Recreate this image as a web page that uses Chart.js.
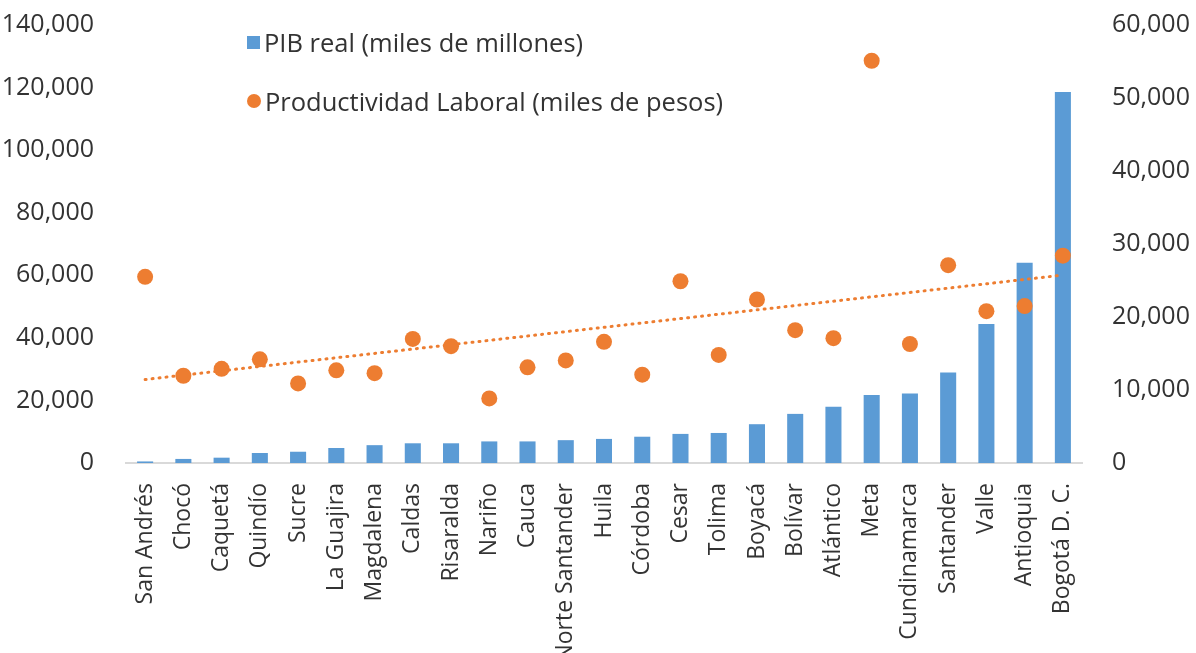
<!DOCTYPE html>
<html>
<head>
<meta charset="utf-8">
<script src="https://cdn.jsdelivr.net/npm/chart.js@4.4.1/dist/chart.umd.min.js"></script>
<style>
  html, body { margin: 0; padding: 0; background: #fff; overflow: hidden; }
  #wrap { position: relative; width: 1196px; height: 653px; }
  #legend { position: absolute; left: 247px; top: 24px; font-family: "Open Sans", sans-serif; font-size: 25.5px; color: #333; }
  .item { display: flex; align-items: center; height: 36px; margin-bottom: 23px; white-space: nowrap; }
  .box { width: 13px; height: 13px; background: #5B9BD5; margin-right: 4px; }
  .dot { width: 14px; height: 14px; border-radius: 50%; background: #ED7D31; margin-right: 4px; }
</style>
</head>
<body>
<div id="wrap">
  <canvas id="chart" width="1196" height="653"></canvas>
  <div id="legend">
    <div class="item"><span class="box"></span>PIB real (miles de millones)</div>
    <div class="item"><span class="dot"></span>Productividad Laboral (miles de pesos)</div>
  </div>
</div>
<script>
// Departments, sorted by PIB
const departments = ["San Andrés", "Chocó", "Caquetá", "Quindío", "Sucre", "La Guajira", "Magdalena",
    "Caldas", "Risaralda", "Nariño", "Cauca", "Norte Santander", "Huila", "Córdoba", "Cesar",
    "Tolima", "Boyacá", "Bolívar", "Atlántico", "Meta", "Cundinamarca", "Santander", "Valle",
    "Antioquia", "Bogotá D. C."];

// PIB real (miles de millones) - left axis
const pibReal = [500, 1300, 1700, 3200, 3600, 4800, 5700, 6300, 6300, 6900, 6900, 7300, 7700,
    8400, 9300, 9600, 12400, 15700, 18000, 21700, 22200, 28900, 44400, 64000, 118600];

// Productividad laboral (miles de pesos) - right axis
const productividad = [25500, 11950, 12900, 14200, 10900, 12700, 12300, 17000, 16000, 8850, 13100,
    14050, 16600, 12100, 24900, 14800, 22400, 18200, 17100, 55100, 16300, 27100, 20800, 21500, 28400];

// Axis ticks
const leftTicks = [0, 20000, 40000, 60000, 80000, 100000, 120000, 140000];
const rightTicks = [0, 10000, 20000, 30000, 40000, 50000, 60000];

// Linear trendline (least squares) over productividad
function trendline(values) {
    const n = values.length;
    const mx = (n - 1) / 2;
    const my = values.reduce((a, b) => a + b, 0) / n;
    let sxy = 0, sxx = 0;
    values.forEach((v, i) => {
        sxy += (i - mx) * (v - my);
        sxx += (i - mx) * (i - mx);
    });
    const slope = sxy / sxx;
    return values.map((v, i) => my + slope * (i - mx));
}

const fmt = (v) => v.toLocaleString("en-US");
const textColor = "#333";
const tickFont = { family: "Open Sans", size: 25 };

// fixed axis widths, and no extra top/bottom padding from the tick labels
function fixY(width) {
    return (scale) => {
        scale.width = width;
        scale.paddingTop = 0;
        scale.paddingBottom = 0;
    };
}

new Chart(document.getElementById("chart").getContext("2d"), {
    type: "bar",
    data: {
        labels: departments,
        datasets: [
            {
                type: "line",
                label: "Productividad Laboral (miles de pesos)",
                data: productividad,
                yAxisID: "y1",
                showLine: false,
                pointRadius: 8,
                pointHoverRadius: 8,
                pointBackgroundColor: "#ED7D31",
                pointBorderWidth: 0,
                order: 1
            },
            {
                type: "line",
                label: "Tendencia",
                data: trendline(productividad),
                yAxisID: "y1",
                borderColor: "#ED7D31",
                borderWidth: 3,
                borderDash: [1, 6],
                borderCapStyle: "round",
                pointRadius: 0,
                fill: false,
                order: 2
            },
            {
                label: "PIB real (miles de millones)",
                data: pibReal,
                yAxisID: "y",
                backgroundColor: "#5B9BD5",
                categoryPercentage: 1,
                barPercentage: 0.42,
                order: 3
            }
        ]
    },
    options: {
        responsive: false,
        animation: false,
        layout: { padding: { top: 25, left: 0, right: 0, bottom: 0 } },
        plugins: {
            legend: { display: false },
            tooltip: { enabled: false }
        },
        scales: {
            x: {
                grid: { display: false },
                border: { display: true, color: "#d9d9d9", width: 2 },
                ticks: {
                    autoSkip: false,
                    minRotation: 90,
                    maxRotation: 90,
                    padding: 12,
                    color: textColor,
                    font: { family: "Open Sans", size: 23 }
                },
                afterFit: (scale) => { scale.height = 190; }
            },
            y: {
                position: "left",
                min: 0,
                max: 140000,
                afterBuildTicks: (scale) => { scale.ticks = leftTicks.map(v => ({ value: v })); },
                grid: { display: false },
                border: { display: false },
                ticks: { padding: 24, color: textColor, font: tickFont, callback: fmt },
                afterFit: fixY(126)
            },
            y1: {
                position: "right",
                min: 0,
                max: 60000,
                afterBuildTicks: (scale) => { scale.ticks = rightTicks.map(v => ({ value: v })); },
                grid: { display: false },
                border: { display: false },
                ticks: { padding: 22, color: textColor, font: tickFont, callback: fmt },
                afterFit: fixY(114)
            }
        }
    }
});
</script>
</body>
</html>
